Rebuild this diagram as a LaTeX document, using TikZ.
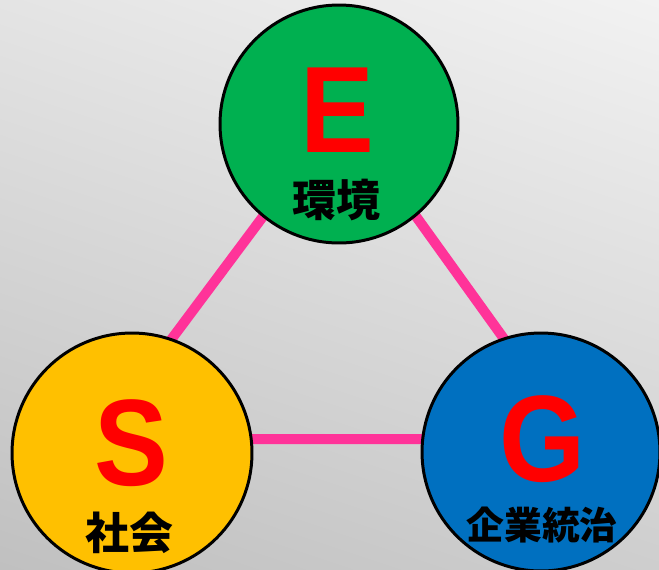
\documentclass[tikz,border=0pt]{standalone}
\usepackage{fontspec}
\setmainfont{Liberation Sans}
\newfontfamily\cjk{Noto Sans CJK JP}
\definecolor{EsgGreen}{RGB}{0, 176, 80}
\definecolor{EsgYellow}{RGB}{255, 192, 0}
\definecolor{EsgBlue}{RGB}{0, 112, 192}
\definecolor{EsgPink}{RGB}{255, 51, 153}
\definecolor{BgLight}{RGB}{242, 242, 242}
\definecolor{BgMid}{RGB}{228, 228, 228}
\definecolor{BgLow}{RGB}{206, 206, 206}
\definecolor{BgDark}{RGB}{192, 192, 192}
\usetikzlibrary{positioning, shadings}
\newcommand{\narrowtext}[1]{\scalebox{0.9}[1]{#1}}

\begin{document}
\begin{tikzpicture}[x=0.02cm, y=-0.02cm,
        circ/.style={draw=black, line width=1.7pt, circle, minimum size=#1, inner sep=0pt},
        letter/.style={anchor=base, inner sep=0pt, text=red, font=\bfseries\fontsize{70}{70}\selectfont},
        jlabel/.style={inner sep=0pt, text=black, font=\cjk\bfseries\fontsize{#1}{#1}\selectfont},
        link/.style={EsgPink, line width=5.7pt}]
    \useasboundingbox (0,0) rectangle (659,569);
    \clip (0,0) rectangle (659,569);
    \shade[upper left=BgMid, upper right=BgLight, lower left=BgDark, lower right=BgLow] (0,0) rectangle (659,569);

    % triangle behind the circles
    \coordinate (top) at (341,112);
    \coordinate (left) at (97,439);
    \coordinate (right) at (576,439);
    \draw[link] (top) -- (left) -- (right) -- cycle;

    \node[circ=4.76cm, fill=EsgGreen] (env) at (339,124) {};
    \node[circ=4.8cm, fill=EsgYellow] (soc) at (132,453) {};
    \node[circ=4.76cm, fill=EsgBlue] (gov) at (541,452) {};

    \node[letter] (e) at (337,152) {\narrowtext{E}};
    \node[letter] (s) at (131,485) {\narrowtext{S}};
    \node[letter] (g) at (543,481) {\narrowtext{G}};

    \node[jlabel=25pt] (envtext) at (336,200) {環境};
    \node[jlabel=25pt] (soctext) at (129,533) {社会};
    \node[jlabel=21.5pt] (govtext) at (542,525) {企業統治};
\end{tikzpicture}
\end{document}
